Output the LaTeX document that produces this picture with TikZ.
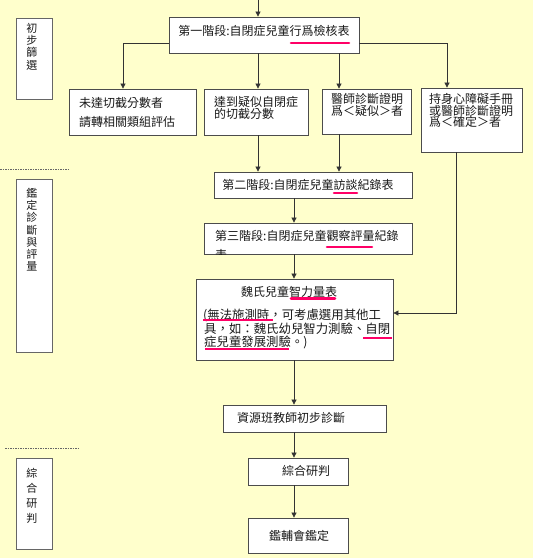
\documentclass[tikz,border=0pt]{standalone}
\usepackage{fontspec}
\newfontfamily\cjk{Noto Sans CJK TC}
\usetikzlibrary{arrows.meta}
\definecolor{bg}{HTML}{FFFFCC}
\definecolor{hlred}{HTML}{FF0066}
\begin{document}
\begin{tikzpicture}[x=1pt,y=-1pt,
 box/.style={draw=black!70, line width=0.8pt, fill=white, inner sep=0pt},
 side/.style={draw=black!60, line width=0.9pt, fill=white, inner sep=0pt},
 txt/.style={inner sep=0pt, font=\cjk\fontsize{12}{12}\selectfont, text=black!90},
 vtxt/.style={inner sep=0pt, font=\cjk\fontsize{11}{12.2}\selectfont, text=black!90, align=center},
 conn/.style={draw=black!80, line width=0.7pt},
 arr/.style={conn, -{Triangle[length=5pt,width=5pt]}},
 hl/.style={draw=hlred, line width=2.6pt, line cap=round},
 hlthin/.style={draw=hlred, line width=1.6pt},
 sepline/.style={draw=black!60, dash pattern=on 1.5pt off 1pt, line width=0.5pt}
]
\fill[bg] (0,0) rectangle (533,558);
\useasboundingbox (0,0) rectangle (533,558);

% side boxes
\node[side, minimum width=36pt, minimum height=81pt] (s1) at (34,58.5) {};
\node[side, minimum width=36pt, minimum height=173pt] (s2) at (34,265.5) {};
\node[side, minimum width=36pt, minimum height=91pt] (s3) at (34,503.5) {};
\node[vtxt, anchor=north] (s1t) at (32,23) {初\\步\\篩\\選};
\node[vtxt, anchor=north] (s2t) at (32,188) {鑑\\定\\診\\斷\\與\\評\\量};
\node[vtxt, anchor=north, font=\cjk\fontsize{11}{15}\selectfont] (s3t) at (32,468) {綜\\合\\研\\判};
\draw[sepline] (0,169) -- (68,169);
\draw[sepline] (5,448) -- (78,448);

% main boxes
\node[box, minimum width=190pt, minimum height=36pt] (b1) at (264,35) {};
\node[box, minimum width=127pt, minimum height=46pt] (b2a) at (132.5,112) {};
\node[box, minimum width=104pt, minimum height=46pt] (b2b) at (256,112) {};
\node[box, minimum width=89pt, minimum height=45pt] (b2c) at (366.5,111.5) {};
\node[box, minimum width=101pt, minimum height=64pt] (b2d) at (471.5,120) {};
\node[box, minimum width=198pt, minimum height=26pt] (b3) at (313,185) {};
\node[box, minimum width=208pt, minimum height=31pt] (b4) at (308,238.5) {};
\node[box, minimum width=197pt, minimum height=81pt] (b5) at (294.5,319.5) {};
\node[box, minimum width=163pt, minimum height=27pt] (b6) at (304.5,418.5) {};
\node[box, minimum width=100pt, minimum height=27pt] (b7) at (298,471.5) {};
\node[box, minimum width=100pt, minimum height=35pt] (b8) at (298,535.5) {};

% texts
\node[txt] (t1) at (264,31) {第一階段:自閉症兒童行爲檢核表};
\node[txt, anchor=west] (t2a1) at (79,103) {未達切截分數者};
\node[txt, anchor=west] (t2a2) at (79,122) {請轉相關類組評估};
\node[txt, anchor=west] (t2b1) at (214,102) {達到疑似自閉症};
\node[txt, anchor=west] (t2b2) at (214,114) {的切截分數};
\node[txt, anchor=west] (t2c1) at (331,99) {醫師診斷證明};
\node[txt, anchor=west] (t2c2) at (331,111) {爲＜疑似＞者};
\node[txt, anchor=west] (t2d1) at (429,99) {持身心障礙手冊};
\node[txt, anchor=west] (t2d2) at (429,110.5) {或醫師診斷證明};
\node[txt, anchor=west] (t2d3) at (429,122) {爲＜確定＞者};
\node[txt] (t3) at (308,185) {第二階段:自閉症兒童訪談紀錄表};
\begin{scope}
\clip (b4.north west) rectangle (b4.south east);
\node[txt, anchor=west] (t4a) at (215,236) {第三階段:自閉症兒童觀察評量紀錄};
\node[txt, anchor=west] (t4b) at (215,254.5) {表};
\end{scope}
\node[txt] (t5) at (289,292) {魏氏兒童智力量表};
\node[txt, anchor=west, font=\cjk\fontsize{12.4}{12}\selectfont] (t5a) at (203,315) {(無法施測時，可考慮選用其他工};
\node[txt, anchor=west, font=\cjk\fontsize{12.4}{12}\selectfont] (t5b) at (204,329) {具，如：魏氏幼兒智力測驗、自閉};
\node[txt, anchor=west, font=\cjk\fontsize{12.4}{12}\selectfont] (t5c) at (204,342) {症兒童發展測驗。)};
\node[txt, anchor=west] (t6) at (237,418) {資源班教師初步診斷};
\node[txt] (t7) at (306,471) {綜合研判};
\node[txt] (t8) at (299,536) {鑑輔會鑑定};

% highlights
\draw[hl] (291,43) -- (349,43);
\draw[hl] (334,193) -- (357,193);
\draw[hl] (327,247) -- (372,247);
\draw[hl] (291,298.5) -- (335,298.5);
\draw[hlthin, line width=2pt] (203,320) -- (273,320);
\draw[hlthin, line width=1.2pt] (363,338) -- (392,338);
\draw[hlthin, line width=1.8pt] (205,349) -- (289,349);

% connectors
\coordinate (top) at (258,0);
\coordinate (c2) at (339,0);
\coordinate (m) at (294,0);
\coordinate (jl) at (123,43);
\coordinate (jr) at (447,43);
\coordinate (c3) at (456,313);
\draw[arr] (top) -- (top |- b1.north);
\draw[arr] (b1.west |- jl) -- (jl) -- (jl |- b2a.north);
\draw[arr] (b1.east |- jr) -- (jr) -- (jr |- b2d.north);
\draw[arr] (b1.south -| top) -- (b2b.north -| top);
\draw[arr] (b1.south -| c2) -- (b2c.north -| c2);
\draw[arr] (b2b.south -| top) -- (b3.north -| top);
\draw[arr] (b2c.south -| c2) -- (b3.north -| c2);
\draw[arr] (b3.south -| m) -- (b4.north -| m);
\draw[arr] (b4.south -| m) -- (b5.north -| m);
\draw[arr] (b2d.south -| c3) -- (c3) -- (b5.east |- c3);
\draw[arr] (b5.south -| m) -- (b6.north -| m);
\draw[arr] (b6.south -| m) -- (b7.north -| m);
\draw[arr] (b7.south -| m) -- (b8.north -| m);
\end{tikzpicture}
\end{document}
